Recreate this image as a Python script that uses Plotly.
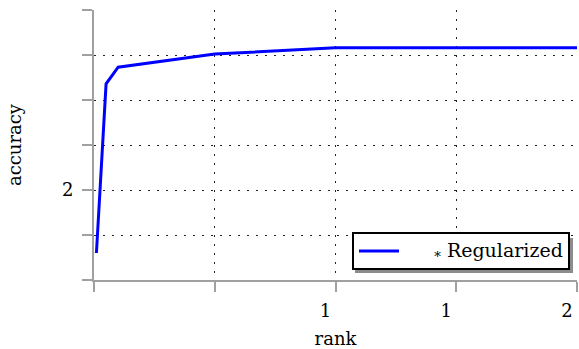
import plotly.graph_objects as go

rank = [0.01, 0.05, 0.1, 0.5, 1.0, 1.5, 2.0]
accuracy = [0.6, 4.36, 4.73, 5.02, 5.16, 5.16, 5.16]

x_tickvals = [0, 0.5, 1, 1.5, 2]
x_ticktext = ["", "", "1", "1", "2"]
y_tickvals = [0, 1, 2, 3, 4, 5, 6]
y_ticktext = ["", "", "2", "", "", "", ""]

FONT = "DejaVu Serif"
W, H = 579, 349
L, R, T, B = 94, 2, 10, 69
pw, ph = W - L - R, H - T - B

fig = go.Figure()
fig.add_trace(go.Scatter(
    x=rank, y=accuracy, mode="lines",
    line=dict(color="#0000ff", width=3),
    name="<span style='font-size:19px'>\u00a0\u00a0\u00a0\u00a0\u00a0<sub>*</sub> Regularized</span>",
))

axis_common = dict(
    showline=True, linecolor="#a0a0a0", linewidth=2,
    ticks="outside", ticklen=10, tickwidth=2, tickcolor="#a0a0a0",
    showgrid=True, gridcolor="#222222", gridwidth=1.2, griddash="2px,7px",
    zeroline=False, automargin=False, ticklabeloverflow="allow",
    tickfont=dict(family=FONT, size=18, color="black"),
)

fig.update_xaxes(
    range=[0, 2], tickmode="array", tickvals=x_tickvals, ticktext=x_ticktext,
    title=dict(text="rank", font=dict(family=FONT, size=18, color="black"), standoff=19),
    ticklabelstandoff=3, ticklabelshift=-10,
    **axis_common,
)
fig.update_yaxes(
    range=[0, 6], tickmode="array", tickvals=y_tickvals, ticktext=y_ticktext,
    title=dict(text="accuracy", font=dict(family=FONT, size=18, color="black"), standoff=36),
    ticklabelstandoff=5,
    **axis_common,
)

def px_x(p):
    return (p - L) / pw

def px_y(p):
    return (H - B - p) / ph

fig.add_shape(type="rect", xref="paper", yref="paper",
              x0=px_x(355), x1=px_x(573), y0=px_y(273), y1=px_y(238),
              fillcolor="#8c8c8c", line=dict(width=0), layer="above")

fig.update_layout(
    width=W, height=H,
    margin=dict(l=L, r=R, t=T, b=B),
    paper_bgcolor="white", plot_bgcolor="white",
    font=dict(family=FONT, size=18, color="black"),
    showlegend=True,
    legend=dict(
        x=px_x(570), xanchor="right", y=px_y(270), yanchor="bottom",
        bgcolor="white", bordercolor="black", borderwidth=2,
        font=dict(family=FONT, size=16, color="black"),
        itemwidth=40,
    ),
)

fig.write_html(
    "out.html",
    config={"displayModeBar": False},
    post_script="document.body.style.margin='0';document.body.style.overflow='hidden';",
)
